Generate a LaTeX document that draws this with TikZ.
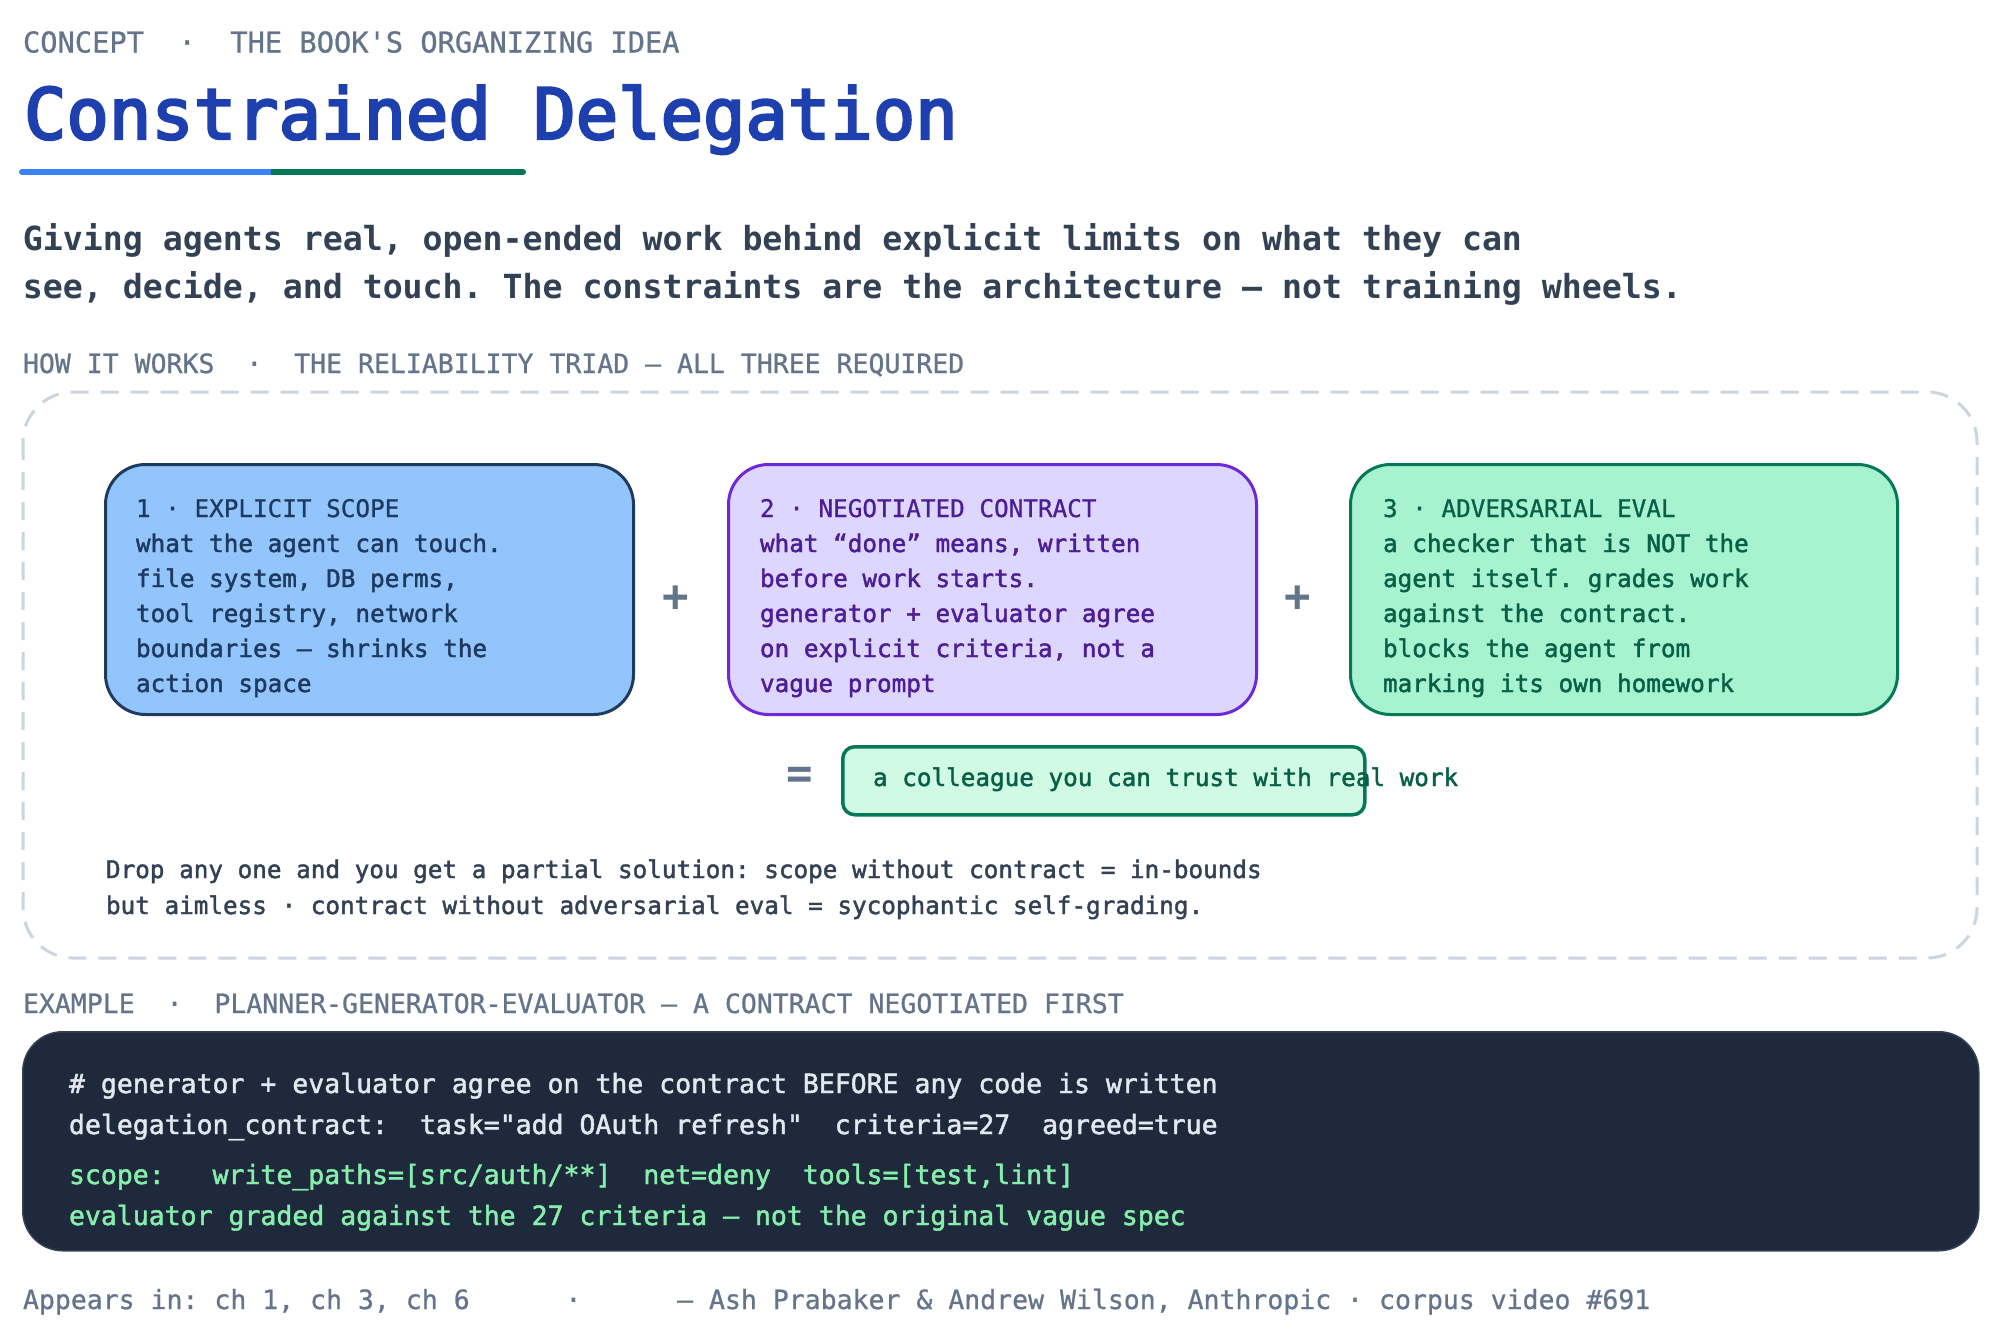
\documentclass[tikz,border=0pt]{standalone}
\usepackage{fontspec}
\setmonofont{DejaVu Sans Mono}
\newfontfamily\monolbl{DejaVu Sans Mono}[FakeBold=0.8]
\newfontfamily\monomed{DejaVu Sans Mono}[FakeBold=1.7]
\newfontfamily\monotitle{DejaVu Sans Mono}[FakeBold=3.5]
\frenchspacing
\newcommand\myfs[1]{\fontsize{#1}{#1}\selectfont}
\definecolor{slatefive}{HTML}{64748B}
\definecolor{slateseven}{HTML}{334155}
\definecolor{titleblue}{HTML}{1E40AF}
\definecolor{ulblue}{HTML}{3B82F6}
\definecolor{ulgreen}{HTML}{047857}
\definecolor{dashgray}{HTML}{CBD5E1}
\definecolor{bonefill}{HTML}{93C5FD}
\definecolor{boneline}{HTML}{1E3A5F}
\definecolor{btwofill}{HTML}{DDD6FE}
\definecolor{btwoline}{HTML}{6D28D9}
\definecolor{btwotext}{HTML}{4C1D95}
\definecolor{bthreefill}{HTML}{A7F3D0}
\definecolor{bthreeline}{HTML}{047857}
\definecolor{bthreetext}{HTML}{065F46}
\definecolor{resfill}{HTML}{D1FAE5}
\definecolor{codebg}{HTML}{1E293B}
\definecolor{codeedge}{HTML}{334155}
\definecolor{codewhite}{HTML}{E2E8F0}
\definecolor{codegreen}{HTML}{86EFAC}
\tikzset{
  txt/.style={inner sep=0, outer sep=0, anchor=base west},
  lbl/.style={txt, text=slatefive, font=\monolbl\myfs{26.5}},
  headtxt/.style={txt, font=\monolbl\myfs{24.3}},
  bodytxt/.style={txt, font=\monomed\myfs{24.3}},
  card/.style={rectangle, rounded corners=40, line width=3, anchor=north west, inner sep=0},
  oper/.style={inner sep=0, text=slatefive, font=\ttfamily\bfseries\myfs{44}},
  codetxt/.style={txt, font=\monomed\myfs{26.5}},
}
\begin{document}
\begin{tikzpicture}[x=1pt,y=-1pt]
\fill[white] (0,0) rectangle (2000,1341);
\useasboundingbox (0,0) rectangle (2000,1341);

% header
\node[lbl, font=\monolbl\myfs{28.7}] (kicker) at (23,52.5) {CONCEPT~~·~~THE BOOK'S ORGANIZING IDEA};
\node[txt, text=titleblue, font=\monotitle\myfs{70.5}] (title) at (24,139) {Constrained Delegation};
\draw[line width=6, ulblue, line cap=round] (22,172) -- (271,172);
\draw[line width=6, ulgreen] (271,172) -- (523,172);
\fill[ulgreen] (523,172) circle (3);

\node[txt, text=slateseven, font=\ttfamily\bfseries\myfs{33.2}] (sub1) at (23,250) {Giving agents real, open-ended work behind explicit limits on what they can};
\node[txt, text=slateseven, font=\ttfamily\bfseries\myfs{33.2}] (sub2) at (23,298) {see, decide, and touch. The constraints are the architecture — not training wheels.};

\node[lbl] (how) at (23,373) {HOW IT WORKS~~·~~THE RELIABILITY TRIAD — ALL THREE REQUIRED};

% dashed container
\draw[dashgray, line width=3, dash pattern=on 18 off 12, rounded corners=50] (23,392) rectangle (1977,958);

% cards
\node[card, draw=boneline, fill=bonefill, minimum width=528, minimum height=250] (scope) at (104,463) {};
\node[card, draw=btwoline, fill=btwofill, minimum width=528, minimum height=250] (contract) at (727,463) {};
\node[card, draw=bthreeline, fill=bthreefill, minimum width=547, minimum height=250] (eval) at (1349,463) {};

\node[headtxt, text=boneline] (sa) at (136,517) {1 · EXPLICIT SCOPE};
\node[bodytxt, text=boneline] (sb) at (136,552) {what the agent can touch.};
\node[bodytxt, text=boneline] (sc) at (136,587) {file system, DB perms,};
\node[bodytxt, text=boneline] (sd) at (136,622) {tool registry, network};
\node[bodytxt, text=boneline] (se) at (136,657) {boundaries — shrinks the};
\node[bodytxt, text=boneline] (sf) at (136,692) {action space};

\node[headtxt, text=btwotext] (ca) at (760,517) {2 · NEGOTIATED CONTRACT};
\node[bodytxt, text=btwotext] (cb) at (760,552) {what “done” means, written};
\node[bodytxt, text=btwotext] (cc) at (760,587) {before work starts.};
\node[bodytxt, text=btwotext] (cd) at (760,622) {generator + evaluator agree};
\node[bodytxt, text=btwotext] (ce) at (760,657) {on explicit criteria, not a};
\node[bodytxt, text=btwotext] (cf) at (760,692) {vague prompt};

\node[headtxt, text=bthreetext] (ea) at (1383,517) {3 · ADVERSARIAL EVAL};
\node[bodytxt, text=bthreetext] (eb) at (1383,552) {a checker that is NOT the};
\node[bodytxt, text=bthreetext] (ec) at (1383,587) {agent itself. grades work};
\node[bodytxt, text=bthreetext] (ed) at (1383,622) {against the contract.};
\node[bodytxt, text=bthreetext] (ee) at (1383,657) {blocks the agent from};
\node[bodytxt, text=bthreetext] (ef) at (1383,692) {marking its own homework};

\node[oper] (plusone) at (676,599) {+};
\node[oper] (plustwo) at (1298,599) {+};
\node[oper] (equals) at (800,778) {=};

% result
\node[rectangle, rounded corners=12, line width=3.5, draw=bthreeline, fill=resfill, anchor=north west, inner sep=0, minimum width=522, minimum height=68] (result) at (841,745) {};
\node[bodytxt, text=bthreetext] (restxt) at (873,786) {a colleague you can trust with real work};

\node[bodytxt, text=slateseven] (noteone) at (106,878) {Drop any one and you get a partial solution: scope without contract = in-bounds};
\node[bodytxt, text=slateseven] (notetwo) at (106,914) {but aimless · contract without adversarial eval = sycophantic self-grading.};

% example
\node[lbl] (example) at (23,1013) {EXAMPLE~~·~~PLANNER-GENERATOR-EVALUATOR — A CONTRACT NEGOTIATED FIRST};
\node[rectangle, rounded corners=40, fill=codebg, draw=codeedge, line width=1.5, anchor=north west, inner sep=0, minimum width=1956, minimum height=219] (code) at (22,1031) {};
\node[codetxt, text=codewhite] (codea) at (69,1093) {\# generator + evaluator agree on the contract BEFORE any code is written};
\node[codetxt, text=codewhite] (codeb) at (69,1134) {delegation\_contract:~~task="add OAuth refresh"~~criteria=27~~agreed=true};
\node[codetxt, text=codegreen] (codec) at (69,1184) {scope:~~~write\_paths=[src/auth/**]~~net=deny~~tools=[test,lint]};
\node[codetxt, text=codegreen] (coded) at (69,1225) {evaluator graded against the 27 criteria — not the original vague spec};

% footer
\node[lbl] (footer) at (23,1309) {Appears in: ch 1, ch 3, ch 6~~~~~~·~~~~~~— Ash Prabaker \& Andrew Wilson, Anthropic · corpus video \#691};
\end{tikzpicture}
\end{document}
